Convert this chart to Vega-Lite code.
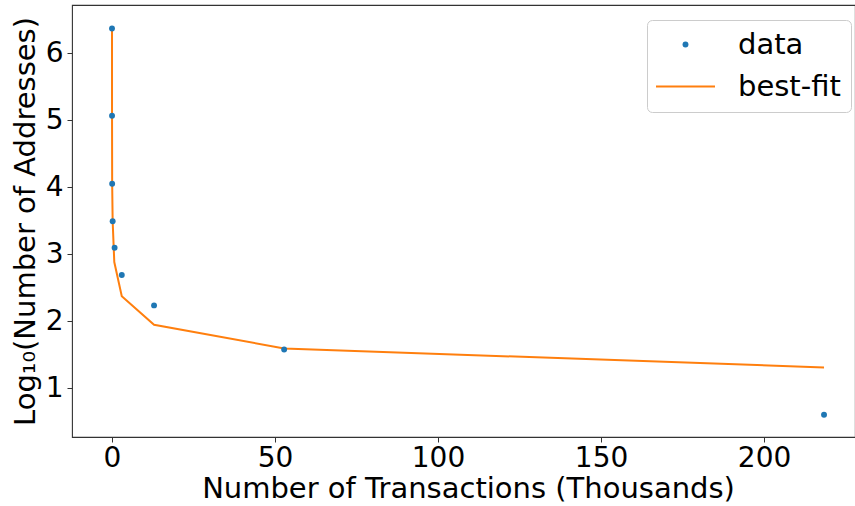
{
  "$schema": "https://vega.github.io/schema/vega-lite/v6.json",
  "width": 783,
  "height": 432,
  "autosize": {"type": "none"},
  "padding": {"left": 72, "top": 5, "right": 0, "bottom": 69},
  "background": "white",
  "config": {
    "font": "DejaVu Sans",
    "view": {"stroke": "#333333", "strokeWidth": 1.1},
    "axis": {
      "domain": false,
      "grid": false,
      "tickColor": "#333333",
      "tickSize": 5,
      "tickWidth": 1,
      "labelColor": "black",
      "titleColor": "black",
      "labelFont": "DejaVu Sans",
      "titleFont": "DejaVu Sans",
      "labelFontSize": 28,
      "titleFontSize": 29,
      "titleFontWeight": "normal"
    }
  },
  "datasets": {
    "observed": [
      {"tx": 0.001, "log_addresses": 6.367, "series": "data"},
      {"tx": 0.01, "log_addresses": 5.064, "series": "data"},
      {"tx": 0.05, "log_addresses": 4.049, "series": "data"},
      {"tx": 0.2, "log_addresses": 3.49, "series": "data"},
      {"tx": 0.8, "log_addresses": 3.094, "series": "data"},
      {"tx": 3.0, "log_addresses": 2.687, "series": "data"},
      {"tx": 12.9, "log_addresses": 2.233, "series": "data"},
      {"tx": 52.8, "log_addresses": 1.576, "series": "data"},
      {"tx": 218.4, "log_addresses": 0.6, "series": "data"}
    ],
    "fit": [
      {"tx": 0.001, "log_addresses": 6.367, "series": "best-fit"},
      {"tx": 0.01, "log_addresses": 5.064, "series": "best-fit"},
      {"tx": 0.05, "log_addresses": 4.049, "series": "best-fit"},
      {"tx": 0.2, "log_addresses": 3.49, "series": "best-fit"},
      {"tx": 0.7, "log_addresses": 2.88, "series": "best-fit"},
      {"tx": 3.0, "log_addresses": 2.37, "series": "best-fit"},
      {"tx": 12.9, "log_addresses": 1.945, "series": "best-fit"},
      {"tx": 52.8, "log_addresses": 1.59, "series": "best-fit"},
      {"tx": 218.4, "log_addresses": 1.307, "series": "best-fit"}
    ]
  },
  "layer": [
    {
      "data": {"name": "fit"},
      "mark": {"type": "line", "strokeWidth": 2, "clip": true},
      "encoding": {
        "x": {
          "field": "tx",
          "type": "quantitative",
          "scale": {"domain": [-12.27, 227.9], "nice": false, "zero": false},
          "axis": {"values": [0, 50, 100, 150, 200], "format": "d", "title": "Number of Transactions (Thousands)", "labelPadding": 2, "titlePadding": 2, "titleX": 396}
        },
        "y": {
          "field": "log_addresses",
          "type": "quantitative",
          "scale": {"domain": [0.269, 6.717], "nice": false, "zero": false},
          "axis": {"values": [1, 2, 3, 4, 5, 6], "format": "d", "title": "Log₁₀(Number of Addresses)", "labelPadding": 4, "titlePadding": 5}
        },
        "color": {
          "field": "series",
          "type": "nominal",
          "scale": {"domain": ["data", "best-fit"], "range": ["#1f77b4", "#ff7f0e"]},
          "legend": {
            "orient": "none",
            "legendX": 575,
            "legendY": 15,
            "title": null,
            "labelFont": "DejaVu Sans",
            "labelFontSize": 29,
            "labelColor": "black",
            "labelOffset": 38,
            "symbolOffset": 14,
            "padding": 10,
            "rowPadding": 12,
            "fillColor": "white",
            "strokeColor": "#cccccc",
            "cornerRadius": 5,
            "symbolOpacity": 1,
            "encode": {
              "symbols": {
                "update": {
                  "stroke": {"scale": "color", "field": "value"},
                  "strokeWidth": {"signal": "datum.value === 'data' ? 0 : 2"}
                }
              }
            }
          }
        }
      }
    },
    {
      "data": {"name": "observed"},
      "mark": {"type": "point", "filled": true, "opacity": 1},
      "encoding": {
        "x": {"field": "tx", "type": "quantitative"},
        "y": {"field": "log_addresses", "type": "quantitative"},
        "color": {"field": "series", "type": "nominal"},
        "shape": {
          "field": "series",
          "type": "nominal",
          "scale": {"domain": ["data", "best-fit"], "range": ["circle", "stroke"]}
        },
        "size": {
          "field": "series",
          "type": "nominal",
          "scale": {"domain": ["data", "best-fit"], "range": [35, 3481]}
        }
      }
    }
  ]
}
